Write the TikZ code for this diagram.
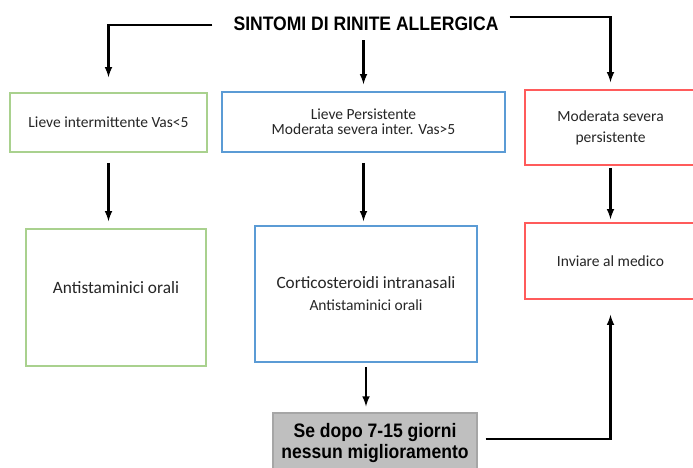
\documentclass[tikz,border=0pt]{standalone}
\usepackage{fontspec}
\setmainfont{Carlito}
\newfontfamily\titlefont{Liberation Sans}[FakeStretch=0.9]
\usetikzlibrary{arrows}
\definecolor{boxgreen}{HTML}{A9D18E}
\definecolor{boxblue}{HTML}{5B9BD5}
\definecolor{boxred}{HTML}{FF5B5B}
\definecolor{greyfill}{HTML}{BFBFBF}
\definecolor{greyline}{HTML}{A6A6A6}

\begin{document}
\begin{tikzpicture}[x=1pt, y=-1pt,
        box/.style={draw, line width=1.6pt, fill=white, align=center,
          inner sep=2pt, text=black!85, font=\fontsize{15.5}{19}\selectfont},
        greenbox/.style={box, draw=boxgreen},
        bluebox/.style={box, draw=boxblue},
        redbox/.style={box, draw=boxred},
        greybox/.style={draw=greyline, fill=greyfill, line width=1.2pt,
          align=center, inner sep=2pt,
          font=\titlefont\bfseries\fontsize{19.5}{21}\selectfont},
        titlebox/.style={inner sep=0pt,
          font=\titlefont\bfseries\fontsize{19.5}{21}\selectfont},
        arr/.style={->, line width=2.4pt}, >=latex]
        \clip (0,0) rectangle (693,468);
        \node (title) at (366,24) [titlebox] {SINTOMI DI RINITE ALLERGICA};
        \node (g1) at (108.5,122.5) [greenbox, minimum width=197pt, minimum height=59pt] {Lieve intermittente Vas<5};
        \node (b1) at (363.5,122) [bluebox, minimum width=283pt, minimum height=60pt,
          font=\fontsize{15.5}{15}\selectfont] {Lieve Persistente\\Moderata severa inter. Vas>5};
        \node (r1) at (610.5,127.5) [redbox, minimum width=171pt, minimum height=75pt,
          font=\fontsize{15.5}{21}\selectfont] {Moderata severa\\persistente};
        \node (g2) at (116,297.5) [greenbox, minimum width=180pt, minimum height=137pt,
          text height=12pt, text depth=20pt,
          font=\fontsize{17.3}{21}\selectfont] {Antistaminici orali};
        \node (b2) at (366,294) [bluebox, minimum width=222pt, minimum height=136pt,
          font=\fontsize{15.5}{22}\selectfont] {{\fontsize{17.2}{22}\selectfont Corticosteroidi intranasali}\\Antistaminici orali};
        \node (r2) at (610.5,261) [redbox, minimum width=171pt, minimum height=76pt] {Inviare al medico};
        \node (grey) at (375,443) [greybox, minimum width=204pt, minimum height=60pt] {Se dopo 7-15 giorni\\nessun miglioramento};
        % from the title down to the first row
        \draw[arr, shorten >=15pt] ([xshift=-21pt,yshift=-1pt]title.west) -| (g1.north);
        \draw[arr, shorten <=9pt, shorten >=7pt] (title.south -| b1.north) -- (b1.north);
        \draw[arr, shorten >=7pt] ([xshift=11pt,yshift=7pt]title.east) -| (r1.north);
        % first row to second row
        \draw[arr, shorten <=10pt, shorten >=7pt] (g1.south) -- (g1.south |- g2.north);
        \draw[arr, shorten <=10pt, shorten >=4pt] (b1.south) -- (b1.south |- b2.north);
        \draw[arr, shorten <=2pt, shorten >=3pt] (r1.south) -- (r2.north);
        \draw[arr, shorten <=4pt, shorten >=6pt] (b2.south) -- (b2.south |- grey.north);
        \draw[arr, shorten <=8pt, shorten >=15pt] ([yshift=4pt]grey.east) -| (r2.south);
\end{tikzpicture}
\end{document}
